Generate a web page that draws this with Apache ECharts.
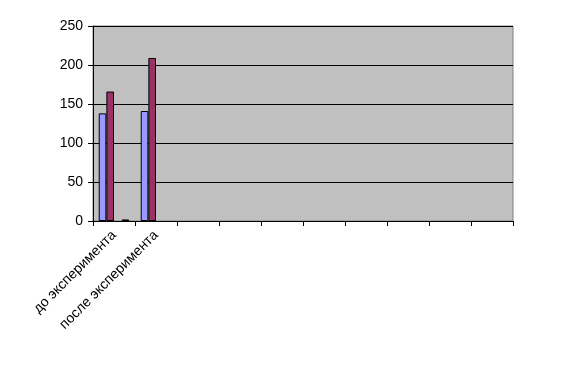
<!DOCTYPE html>
<html><head><meta charset="utf-8">
<script src="https://cdn.jsdelivr.net/npm/echarts@6/dist/echarts.min.js"></script>
<style>html,body{margin:0;padding:0;background:#fff}#c{width:577px;height:365px}</style>
</head><body><div id="c"></div>
<script>
const categories = ['до эксперимента','после эксперимента','','','','','','','',''];
const series1 = [138, 141, null, null, null, null, null, null, null, null];
const series2 = [166, 209, null, null, null, null, null, null, null, null];
const series3 = [null, null, null, null, null, null, null, null, null, null];
const series4 = [2, null, null, null, null, null, null, null, null, null];
const yTicks = [0, 50, 100, 150, 200, 250];

const chart = echarts.init(document.getElementById('c'), null, {renderer:'canvas'});
const font = 'Liberation Sans, Arial, sans-serif';
function s(data, color){
  return {type:'bar', data:data, barGap:'0%', barCategoryGap:'27.3%',
    itemStyle:{color:color, borderColor:'#000', borderWidth:1}, animation:false};
}
chart.setOption({
  animation:false,
  grid:{left:93, right:64, top:26, bottom:144, show:true, backgroundColor:'#C0C0C0', borderColor:'#808080', borderWidth:1},
  xAxis:{type:'category', data:categories, boundaryGap:true,
    axisLine:{lineStyle:{color:'#000', width:1}},
    axisTick:{show:true, length:5, interval:0, lineStyle:{color:'#000'}},
    axisLabel:{interval:0, rotate:45, color:'#000', fontFamily:font, fontSize:14, margin:12},
    splitLine:{show:false}},
  yAxis:{type:'value', min:yTicks[0], max:yTicks[yTicks.length-1], interval:50,
    axisLine:{show:true, lineStyle:{color:'#000', width:1}},
    axisTick:{show:true, length:5, lineStyle:{color:'#000'}},
    axisLabel:{color:'#000', fontFamily:font, fontSize:14, margin:10},
    splitLine:{show:true, lineStyle:{color:'#000', width:1}}},
  series:[s(series1,'#9999FF'), s(series2,'#993366'), s(series3,'#FFFFCC'), s(series4,'#CCFFFF')]
});
</script></body></html>
